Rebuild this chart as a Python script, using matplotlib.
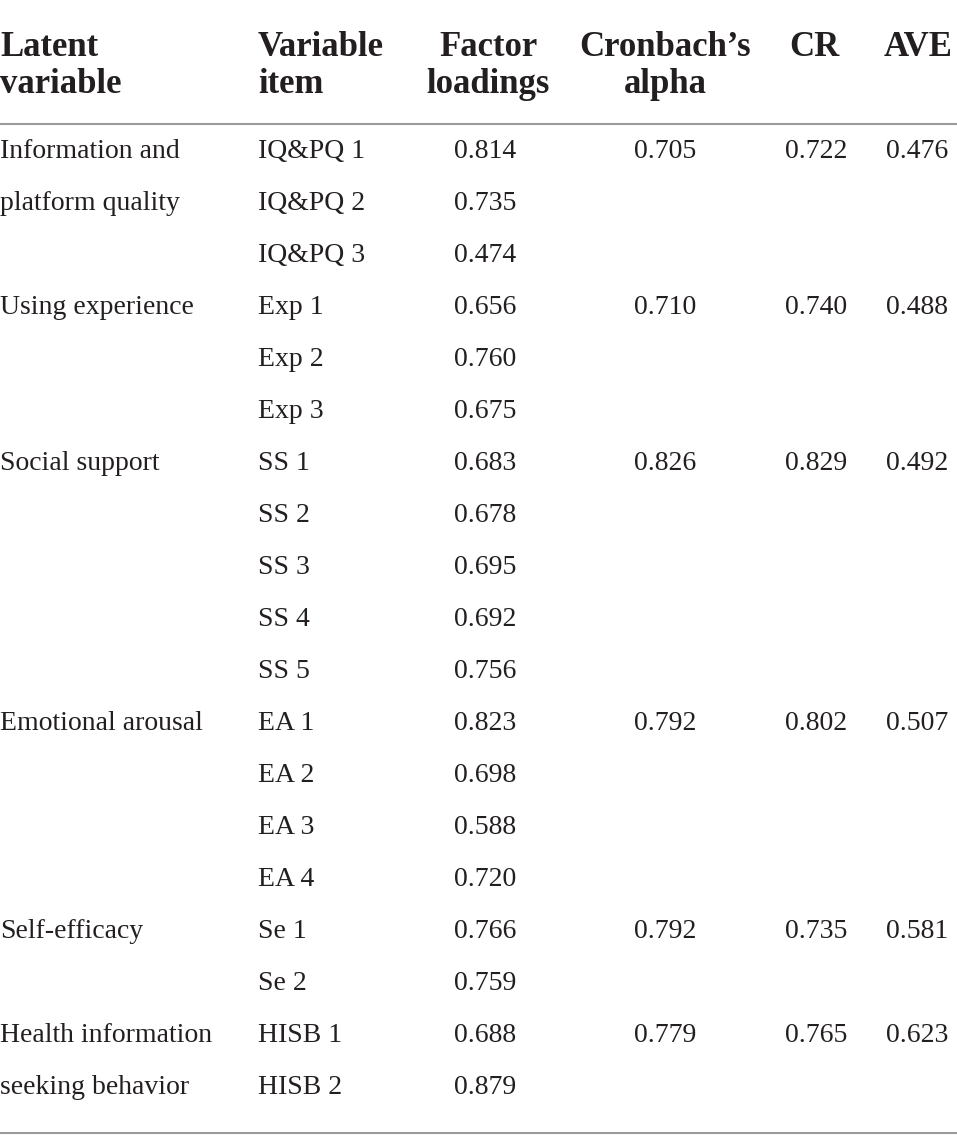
"""Measurement model table: loadings, reliability and AVE."""
import matplotlib
matplotlib.use("Agg")
import matplotlib.pyplot as plt

W, H = 957, 1147

headers = [["Latent", "variable"], ["Variable", "item"], ["Factor", "loadings"],
           ["Cronbach\u2019s", "alpha"], ["CR"], ["AVE"]]

latent = ["Information and\nplatform quality", "Using experience", "Social support",
          "Emotional arousal", "Self-efficacy", "Health information\nseeking behavior"]
items = [["IQ&PQ 1", "IQ&PQ 2", "IQ&PQ 3"],
         ["Exp 1", "Exp 2", "Exp 3"],
         ["SS 1", "SS 2", "SS 3", "SS 4", "SS 5"],
         ["EA 1", "EA 2", "EA 3", "EA 4"],
         ["Se 1", "Se 2"],
         ["HISB 1", "HISB 2"]]
loadings = [[0.814, 0.735, 0.474],
            [0.656, 0.760, 0.675],
            [0.683, 0.678, 0.695, 0.692, 0.756],
            [0.823, 0.698, 0.588, 0.720],
            [0.766, 0.759],
            [0.688, 0.879]]
alpha = [0.705, 0.710, 0.826, 0.792, 0.792, 0.779]
cr = [0.722, 0.740, 0.829, 0.802, 0.735, 0.765]
ave = [0.476, 0.488, 0.492, 0.507, 0.581, 0.623]

FONT = "Liberation Serif"
TXT = "#231f20"
RULE = "#9a9a9a"

fig = plt.figure(figsize=(W / 100, H / 100), dpi=100)
ax = fig.add_axes([0, 0, 1, 1])
ax.set_xlim(0, W); ax.set_ylim(H, 0); ax.axis("off")

# column anchors (x, ha) for header and body
hdr_pos = [(0, "left"), (258, "left"), (488, "center"), (665, "center"), (814, "center"), (918, "center")]
body_pos = [(0, "left"), (258, "left"), (485, "center"), (665, "center"), (816, "center"), (917, "center")]

HFS, BFS = 25, 20


def t(x, y, s, ha, fs, bold=False):
    ax.text(x, y, s, ha=ha, va="baseline", fontsize=fs, family=FONT, color=TXT,
            fontweight="bold" if bold else "normal")


# header
for (x, ha), lines in zip(hdr_pos, headers):
    for k, line in enumerate(lines):
        t(x, 56 + 37 * k, line, ha, HFS, bold=True)

ax.plot([0, W], [124, 124], color=RULE, lw=1.5, solid_capstyle="butt")

# body
row = 0
for g, name in enumerate(latent):
    y0 = 158 + 52 * row
    for k, part in enumerate(name.split("\n")):
        t(body_pos[0][0], y0 + 52 * k, part, "left", BFS)
    t(body_pos[3][0], y0, f"{alpha[g]:.3f}", "center", BFS)
    t(body_pos[4][0], y0, f"{cr[g]:.3f}", "center", BFS)
    t(body_pos[5][0], y0, f"{ave[g]:.3f}", "center", BFS)
    for it, ld in zip(items[g], loadings[g]):
        y = 158 + 52 * row
        t(body_pos[1][0], y, it, "left", BFS)
        t(body_pos[2][0], y, f"{ld:.3f}", "center", BFS)
        row += 1

ax.plot([0, W], [1133, 1133], color=RULE, lw=1.5, solid_capstyle="butt")

fig.savefig("out.png", dpi=100, facecolor="white")
